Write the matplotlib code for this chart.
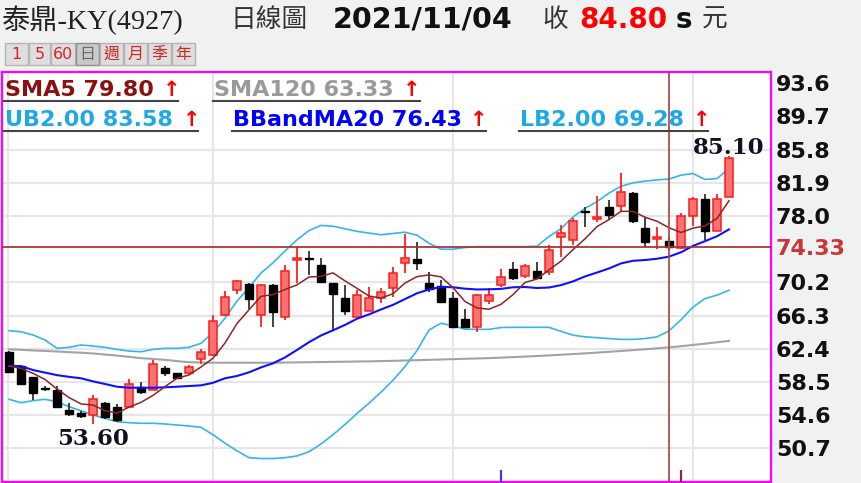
import matplotlib
matplotlib.use("Agg")
import matplotlib.pyplot as plt
from matplotlib.patches import Rectangle
from matplotlib.lines import Line2D

W, H = 862, 483

# ---------------- data ----------------
opens = [62.05, 60.37, 59.04, 57.75, 57.55, 55.20, 54.88, 54.67, 56.06, 55.52,
         55.55, 57.94, 57.61, 60.14, 59.51, 59.51, 61.23, 61.63, 66.33, 69.30,
         70.00, 66.37, 69.90, 66.13, 72.87, 73.00, 72.24, 70.09, 68.40, 66.17,
         66.87, 68.33, 69.50, 72.51, 72.98, 70.09, 69.77, 68.42, 65.90, 64.96,
         68.07, 69.90, 71.74, 70.95, 71.57, 71.42, 75.50, 75.18, 78.60, 77.61,
         79.10, 79.21, 80.74, 76.63, 75.30, 75.10, 74.21, 78.00, 80.00, 76.28, 80.27]
highs = [62.10, 60.40, 59.10, 58.00, 58.08, 56.02, 55.10, 56.93, 56.10, 55.90,
         58.90, 58.53, 61.08, 60.41, 59.60, 60.50, 62.40, 66.40, 69.22, 70.50,
         70.10, 70.00, 70.00, 72.30, 74.32, 73.89, 73.03, 70.10, 69.90, 69.30,
         69.69, 69.58, 72.04, 75.85, 74.95, 71.42, 70.48, 69.10, 67.13, 68.80,
         69.54, 71.74, 72.63, 72.36, 72.63, 74.60, 76.95, 77.73, 79.10, 80.35,
         79.88, 83.02, 80.80, 77.85, 76.67, 75.57, 78.39, 80.20, 80.55, 80.55, 85.10]
lows = [59.60, 58.20, 56.38, 57.40, 55.40, 54.50, 54.30, 53.60, 54.10, 53.80,
        55.50, 57.08, 57.60, 59.20, 58.90, 59.45, 60.60, 61.50, 66.20, 68.84,
        67.13, 64.96, 64.96, 65.78, 70.10, 71.07, 70.20, 64.60, 66.37, 66.10,
        66.80, 67.74, 68.45, 71.34, 71.66, 69.10, 67.90, 64.90, 64.90, 64.40,
        67.72, 69.62, 70.45, 70.68, 70.60, 71.07, 73.22, 74.60, 76.67, 77.33,
        77.53, 78.51, 77.22, 74.32, 74.09, 74.00, 74.10, 76.83, 75.18, 76.20, 80.20]
closes = [59.70, 58.26, 57.20, 57.65, 55.50, 54.73, 54.50, 56.53, 54.38, 54.03,
          58.26, 57.32, 60.61, 59.51, 58.96, 60.22, 62.02, 65.70, 68.52, 70.40,
          68.28, 69.90, 66.75, 71.54, 73.07, 72.90, 70.28, 68.80, 66.84, 68.68,
          68.40, 69.07, 71.34, 73.10, 72.51, 69.39, 67.93, 64.99, 64.96, 68.68,
          68.68, 70.80, 70.68, 72.13, 70.72, 74.00, 75.97, 77.45, 78.45, 77.92,
          78.12, 80.86, 77.41, 74.98, 75.57, 74.33, 78.00, 80.00, 76.28, 80.00, 84.80]

sma5 = [60.37, 60.10, 59.51, 58.80, 57.66, 56.67, 55.92, 55.78, 55.13, 54.83,
        55.54, 56.10, 56.92, 57.95, 58.93, 59.32, 60.26, 61.28, 63.08, 65.37,
        66.98, 68.56, 68.77, 69.37, 69.91, 70.83, 70.91, 71.32, 70.38, 69.50,
        68.60, 68.36, 68.87, 70.12, 70.88, 71.08, 70.85, 69.58, 67.96, 67.19,
        67.05, 67.62, 68.76, 70.19, 70.60, 71.67, 72.70, 74.05, 75.32, 76.76,
        77.58, 78.56, 78.55, 77.86, 77.39, 76.63, 76.06, 76.58, 76.84, 77.72, 79.80]
ma20 = [60.37, 60.37, 59.90, 59.60, 59.30, 59.10, 58.93, 58.57, 58.26, 57.94,
        57.82, 57.82, 57.82, 57.87, 57.94, 58.02, 58.10, 58.40, 58.93, 59.20,
        59.63, 60.21, 60.69, 61.38, 62.26, 63.17, 63.96, 64.57, 65.20, 65.93,
        66.44, 67.02, 67.56, 68.24, 68.92, 69.37, 69.67, 69.63, 69.46, 69.37,
        69.39, 69.44, 69.63, 69.66, 69.54, 69.60, 69.88, 70.32, 70.90, 71.36,
        71.84, 72.43, 72.74, 72.83, 72.98, 73.23, 73.74, 74.49, 75.05, 75.62, 76.43]
ub = [64.52, 64.40, 64.02, 63.43, 62.45, 62.57, 62.84, 62.72, 62.57, 62.33,
      62.13, 62.05, 62.33, 62.45, 62.45, 62.57, 63.04, 64.30, 66.00, 68.00,
      69.60, 71.30, 72.50, 73.90, 75.20, 76.30, 76.90, 76.80, 76.50, 76.20,
      76.00, 75.80, 75.95, 76.10, 75.75, 74.80, 74.10, 74.10, 74.30, 74.40,
      74.40, 74.40, 74.40, 74.40, 74.45, 75.60, 76.50, 77.90, 78.90, 79.70,
      80.70, 81.50, 81.90, 82.10, 82.25, 82.35, 82.80, 83.00, 82.30, 82.40, 83.58]
lb = [56.46, 56.06, 56.30, 56.46, 56.18, 55.59, 55.12, 54.61, 54.22, 53.83,
      53.71, 53.64, 53.64, 53.56, 53.44, 53.32, 53.17, 52.30, 51.30, 50.40,
      49.60, 49.50, 49.50, 49.60, 49.80, 50.30, 51.20, 52.30, 53.50, 54.80,
      56.00, 57.30, 58.70, 60.30, 62.20, 64.60, 65.40, 65.10, 64.70, 64.68,
      64.68, 64.90, 64.92, 64.92, 64.92, 64.92, 64.45, 64.00, 63.80, 63.70,
      63.60, 63.50, 63.50, 63.60, 63.80, 64.50, 65.80, 67.30, 68.30, 68.70, 69.28]
sma120 = [62.33, 62.28, 62.20, 62.15, 62.08, 62.00, 61.94, 61.85, 61.72, 61.60,
          61.45, 61.30, 61.20, 61.10, 60.95, 60.82, 60.78, 60.76, 60.76, 60.76,
          60.76, 60.76, 60.76, 60.78, 60.80, 60.82, 60.84, 60.86, 60.88, 60.90,
          60.92, 60.95, 60.98, 61.02, 61.06, 61.10, 61.14, 61.18, 61.22, 61.26,
          61.30, 61.36, 61.42, 61.48, 61.55, 61.62, 61.70, 61.78, 61.86, 61.95,
          62.04, 62.14, 62.24, 62.34, 62.45, 62.57, 62.70, 62.85, 63.00, 63.16, 63.33]

ytick_vals = [93.6, 89.7, 85.8, 81.9, 78.0, 70.2, 66.3, 62.4, 58.5, 54.6, 50.7]
hgrid_vals = [85.8, 81.9, 78.0, 70.2, 66.3, 62.4, 58.5, 54.6, 50.7]
cross_price = 74.33
cross_index = 55
vgrid_idx = [-0.08, 17, 37, 57]
blue_marks = [41]
brown_marks = [56]

# (text, colour, text-x, centre-y, arrow-x, underline-end-x, underline-y)
legend_items = [
    ("SMA5 79.80", "#8B1010", 5, 90, 163, 178, 101),
    ("SMA120 63.33", "#9A9A9A", 214, 90, 403, 420, 101),
    ("UB2.00 83.58", "#1FA8E6", 5, 120, 183, 198, 131),
    ("BBandMA20 76.43", "#0000FF", 233, 120, 470, 486, 131),
    ("LB2.00 69.28", "#1FA8E6", 520, 120, 693, 708, 131),
]

# ---------------- figure ----------------
BG = "#F0F1F1"
fig = plt.figure(figsize=(W / 100, H / 100), dpi=100, facecolor=BG)


def fx(px):
    return px / W


def fy(py):
    return 1 - py / H


ax = fig.add_axes([fx(2), fy(482), (771 - 2) / W, (482 - 72) / H])
ax.set_facecolor("white")
ax.set_xlim(-0.583, 63.5)
ax.set_ylim(46.74, 94.93)

for s in ax.spines.values():
    s.set_color("#FF00FF")
    s.set_linewidth(1.6)

# grid
for v in hgrid_vals:
    ax.axhline(v, color="#E6E6E6", lw=1.6, zorder=0)
for v in vgrid_idx:
    ax.axvline(v, color="#E6E6E6", lw=1.6, zorder=0)

n = len(closes)
xs = list(range(n))

# lines
ax.plot(xs, sma120, color="#A3A3A3", lw=1.5, zorder=2)
ax.plot(xs, ub, color="#35B6EA", lw=1.2, zorder=2)
ax.plot(xs, lb, color="#35B6EA", lw=1.2, zorder=2)

# candles
bw = 0.62
for i in xs:
    o, h, l, c = opens[i], highs[i], lows[i], closes[i]
    up = c >= o
    wc = "#FF2020" if up else "#333333"
    ax.vlines(i, l, h, color=wc, lw=1.3, zorder=3)
    bot = min(o, c)
    ht = max(abs(c - o), 0.18)
    if up:
        ax.add_patch(Rectangle((i - bw / 2, bot), bw, ht, facecolor="#F87272",
                               edgecolor="#FF1A1A", lw=1.1, zorder=4))
    else:
        ax.add_patch(Rectangle((i - bw / 2, bot), bw, ht, facecolor="#000000",
                               edgecolor="#000000", lw=1.0, zorder=4))

ax.plot(xs, ma20, color="#1010FF", lw=1.5, zorder=5)
ax.plot(xs, sma5, color="#8B2525", lw=1.1, zorder=5)

# crosshair
ax.axhline(cross_price, color="#A83232", lw=1.4, alpha=0.9, zorder=6)
ax.axvline(cross_index, color="#B04848", lw=1.4, alpha=0.9, zorder=6)

# bottom marks
for m in blue_marks:
    ax.vlines(m, 46.74, 46.74 + 1.4, color="#3A3AFF", lw=1.6, zorder=6)
for m in brown_marks:
    ax.vlines(m, 46.74, 46.74 + 1.4, color="#8B3030", lw=1.6, zorder=6)

# max / min labels
imax = max(range(n), key=lambda k: highs[k])
imin = min(range(n), key=lambda k: lows[k])
ax.annotate(f"{highs[imax]:.2f}", (imax, highs[imax]), xytext=(0, 1.5),
            textcoords="offset points", ha="center", va="baseline",
            fontsize=16.5, fontweight="bold", family="DejaVu Serif",
            color="#111122", zorder=7)
ax.annotate(f"{lows[imin]:.2f}", (imin, lows[imin]), xytext=(0, -3.5),
            textcoords="offset points", ha="center", va="top",
            fontsize=16.5, fontweight="bold", family="DejaVu Serif",
            color="#111122", zorder=7)

# y ticks on right
tv = sorted(ytick_vals + [cross_price], reverse=True)
ax.yaxis.tick_right()
ax.set_yticks(tv)
ax.set_yticklabels([f"{v:.2f}" if v == cross_price else f"{v:.1f}" for v in tv])
ax.tick_params(axis="y", length=0, pad=3.5, labelsize=16)
for lab, v in zip(ax.get_yticklabels(), tv):
    lab.set_fontweight("bold")
    lab.set_color("#CC3535" if v == cross_price else "#111111")
ax.set_xticks([])

# legend texts
for txt, col, x0, yc, xa, x1, yu in legend_items:
    fig.text(fx(x0), fy(yc), txt, color=col, fontsize=16, fontweight="bold",
             family="DejaVu Sans", ha="left", va="center")
    fig.text(fx(xa), fy(yc), "\u2191", color="#FF0000", fontsize=15,
             fontweight="bold", family="DejaVu Sans", ha="left", va="center")
    fig.add_artist(Line2D([fx(x0 - 1), fx(x1)], [fy(yu), fy(yu)], color="#444444",
                          lw=1.5, transform=fig.transFigure))

# header
fig.text(fx(2), fy(20), "泰鼎-KY(4927)", fontsize=20.3,
         family=["Liberation Serif", "Noto Sans CJK TC"], color="#222222",
         ha="left", va="center")
fig.text(fx(230), fy(20), "日線圖", fontsize=18.5, family=["Noto Sans CJK TC"],
         color="#333333", ha="left", va="center")
fig.text(fx(333), fy(20), "2021/11/04", fontsize=20.5, fontweight="bold",
         family="DejaVu Sans", color="#111111", ha="left", va="center")
fig.text(fx(542), fy(20), "收", fontsize=18.5, family=["Noto Sans CJK TC"],
         color="#333333", ha="left", va="center")
fig.text(fx(579), fy(20), "84.80", fontsize=20, fontweight="bold",
         family="DejaVu Sans", color="#FF0000", ha="left", va="center")
fig.text(fx(676), fy(20), "s", fontsize=20, fontweight="bold",
         family="DejaVu Sans", color="#111111", ha="left", va="center")
fig.text(fx(702), fy(20), "元", fontsize=18.5, family=["Noto Sans CJK TC"],
         color="#333333", ha="left", va="center")

# period buttons
buttons = ["1", "5", "60", "日", "週", "月", "季", "年"]
bx = [5, 29, 51, 76, 100, 124, 148, 172]
bwid = [23, 21, 24, 23, 23, 23, 23, 23]
for lab, x0, wdt in zip(buttons, bx, bwid):
    sel = lab == "日"
    fig.add_artist(Rectangle((fx(x0), fy(65)), wdt / W, 22 / H,
                             transform=fig.transFigure,
                             facecolor="#C9C9C9" if sel else "#DEDEDE",
                             edgecolor="#8E8E8E" if sel else "#B5B5B5", lw=1.0))
    fig.text(fx(x0 + wdt / 2), fy(54.5), lab, fontsize=11.5,
             family=["DejaVu Sans", "Noto Sans CJK TC"],
             color="#6A6A6A" if sel else "#D42424", ha="center", va="center")

fig.savefig("out.png", dpi=100, facecolor=BG)
